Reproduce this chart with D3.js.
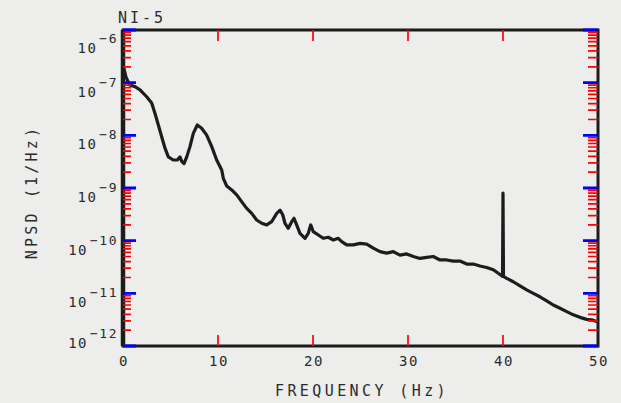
<!DOCTYPE html>
<html>
<head>
<meta charset="utf-8">
<script src="https://cdn.jsdelivr.net/npm/d3@7"></script>
<style>
  body { margin: 0; background: #ededeb; }
  text { font-family: "DejaVu Sans Mono", monospace; fill: #2b2b2b; }
</style>
</head>
<body>
<script>
//chart data: frequency (Hz) and NPSD (1/Hz)
var freq = [0, 0.3, 0.7, 1.26, 1.79, 2.49, 3.02, 3.37, 3.72, 4.07, 4.42, 4.77, 5.29, 5.72, 6.0, 6.18, 6.42,
    6.71, 7.05, 7.4, 7.82, 8.28, 8.81, 9.34, 9.86, 10.39, 10.56, 10.92, 11.44, 11.97, 12.49, 13.02, 13.55,
    14.07, 14.6, 15.13, 15.65, 16.18, 16.53, 16.81, 17.05, 17.4, 17.76, 18.0, 18.28, 18.63, 19.16, 19.5,
    19.76, 20.03, 20.56, 21.08, 21.61, 22.14, 22.66, 23.02, 23.55, 24.24, 24.95, 25.65, 26.35, 27.05, 27.76,
    28.45, 29.16, 29.86, 30.56, 31.26, 31.97, 32.66, 33.37, 34.07, 34.77, 35.47, 36.18, 36.87, 37.58, 38.28,
    38.98, 39.5, 39.86, 39.95, 40.0, 40.05, 40.39, 41.08, 41.79, 42.49, 43.19, 43.89, 44.6, 45.29, 46.0,
    46.71, 47.4, 48.1, 48.81, 49.5, 49.9];
var npsd = [2.2e-7, 1.3e-7, 9.0e-8, 8.4e-8, 7.3e-8, 5.4e-8, 4.1e-8, 2.6e-8, 1.57e-8, 9.4e-9, 5.7e-9, 3.9e-9,
    3.4e-9, 3.4e-9, 3.9e-9, 3.2e-9, 2.9e-9, 3.9e-9, 6.1e-9, 1.09e-8, 1.57e-8, 1.36e-8, 1.01e-8, 6.1e-9,
    3.4e-9, 2.2e-9, 1.53e-9, 1.09e-9, 9.2e-10, 7.4e-10, 5.5e-10, 4.1e-10, 3.3e-10, 2.47e-10, 2.14e-10,
    1.99e-10, 2.29e-10, 3.3e-10, 3.8e-10, 3.1e-10, 2.14e-10, 1.72e-10, 2.29e-10, 2.66e-10, 1.99e-10,
    1.38e-10, 1.11e-10, 1.38e-10, 1.99e-10, 1.48e-10, 1.28e-10, 1.11e-10, 1.16e-10, 1.03e-10, 1.11e-10,
    9.6e-11, 8.3e-11, 8.3e-11, 8.9e-11, 8.6e-11, 7.2e-11, 6.2e-11, 5.8e-11, 6.2e-11, 5.3e-11, 5.6e-11,
    5.0e-11, 4.6e-11, 4.8e-11, 5.0e-11, 4.3e-11, 4.3e-11, 4.1e-11, 4.1e-11, 3.6e-11, 3.6e-11, 3.3e-11,
    3.1e-11, 2.8e-11, 2.4e-11, 2.16e-11, 2.1e-11, 8.0e-10, 2.1e-11, 1.93e-11, 1.66e-11, 1.38e-11, 1.16e-11,
    1.0e-11, 8.6e-12, 7.2e-12, 6.0e-12, 5.2e-12, 4.5e-12, 3.9e-12, 3.5e-12, 3.2e-12, 3.1e-12, 2.9e-12];

//tick values and labels
var x_ticks = [0, 10, 20, 30, 40, 50];
var x_tick_labels = ["0", "10", "20", "30", "40", "50"];
var y_decades = [-6, -7, -8, -9, -10, -11, -12];
var title = "NI-5";
var x_title = "FREQUENCY (Hz)";
var y_title = "NPSD (1/Hz)";

var plot = {left: 123, right: 598, top: 30, bottom: 346};
var ink = "#1c1c1c";

//scales
var x = d3.scaleLinear().domain([0, 50]).range([plot.left, plot.right]);
var y = d3.scaleLog().domain([1e-12, 1e-6]).range([plot.bottom, plot.top]);

var svg = d3.select("body")
    .append("svg")
    .attr("width", 621)
    .attr("height", 403);

svg.append("rect")
    .attr("width", 621)
    .attr("height", 403)
    .attr("fill", "#ededeb");

//log ticks: decades are the major ones
function isMajor(v) {
    return Math.abs(Math.log10(v) - Math.round(Math.log10(v))) < 1e-6;
}

//all minor ticks in one path, x ticks too (inward on every side)
var minorPath = d3.path();
x_ticks.slice(1, -1).forEach(function(t) {
    minorPath.moveTo(x(t), plot.bottom);
    minorPath.lineTo(x(t), plot.bottom - 11);
    minorPath.moveTo(x(t), plot.top);
    minorPath.lineTo(x(t), plot.top + 11);
});
y.ticks().filter(function(v) { return !isMajor(v); }).forEach(function(v) {
    minorPath.moveTo(plot.left, y(v));
    minorPath.lineTo(plot.left + 8, y(v));
    minorPath.moveTo(plot.right, y(v));
    minorPath.lineTo(plot.right - 10, y(v));
});

var majorPath = d3.path();
y.ticks().filter(isMajor).forEach(function(v) {
    majorPath.moveTo(plot.left, y(v));
    majorPath.lineTo(plot.left + 13, y(v));
    majorPath.moveTo(plot.right, y(v));
    majorPath.lineTo(plot.right - 15, y(v));
});

//frame
svg.append("rect")
    .attr("x", plot.left).attr("y", plot.top)
    .attr("width", plot.right - plot.left)
    .attr("height", plot.bottom - plot.top)
    .attr("fill", "none")
    .attr("stroke", ink)
    .attr("stroke-width", 3);

//thicker left axis
svg.append("line")
    .attr("x1", plot.left).attr("x2", plot.left)
    .attr("y1", plot.top).attr("y2", plot.bottom)
    .attr("stroke", ink).attr("stroke-width", 4.5);

//the spectrum line
var pts = freq.map(function(f, i) { return {f: f, v: npsd[i]}; });
var lineGen = d3.line()
    .x(function(d) { return x(d.f); })
    .y(function(d) { return y(d.v); });

svg.append("path")
    .datum(pts)
    .attr("d", lineGen)
    .attr("fill", "none")
    .attr("stroke", ink)
    .attr("stroke-width", 3.2)
    .attr("stroke-linejoin", "round");

svg.append("path")
    .attr("d", minorPath.toString())
    .attr("fill", "none")
    .attr("stroke", "red")
    .attr("stroke-width", 1.7);

svg.append("path")
    .attr("d", majorPath.toString())
    .attr("fill", "none")
    .attr("stroke", "blue")
    .attr("stroke-width", 2.8);

//x tick labels
svg.selectAll(".x-label")
    .data(x_ticks)
    .enter()
    .append("text")
    .attr("class", "x-label")
    .attr("x", function(d) { return x(d) + 1; })
    .attr("y", 366)
    .attr("text-anchor", "middle")
    .attr("font-size", 14)
    .attr("letter-spacing", 1.5)
    .text(function(d, i) { return x_tick_labels[i]; });

//y tick labels, 10 with superscript exponent
y_decades.forEach(function(e) {
    var cy = Math.min(Math.max(y(Math.pow(10, e)) + 9, 48), 343);
    var t = svg.append("text")
        .attr("x", 118)
        .attr("y", cy + 5)
        .attr("text-anchor", "end")
        .attr("font-size", 14)
        .attr("letter-spacing", 1.5);
    t.append("tspan").text("10");
    t.append("tspan")
        .attr("dy", -10)
        .attr("dx", 2)
        .attr("font-size", 13)
        .text("\u2212" + (-e));
});

//titles
svg.append("text")
    .attr("x", 118)
    .attr("y", 23)
    .attr("font-size", 15)
    .attr("letter-spacing", 3)
    .text(title);

svg.append("text")
    .attr("x", 362)
    .attr("y", 396)
    .attr("text-anchor", "middle")
    .attr("font-size", 15)
    .attr("letter-spacing", 3.4)
    .text(x_title);

svg.append("text")
    .attr("transform", "translate(37,192) rotate(-90)")
    .attr("text-anchor", "middle")
    .attr("font-size", 15)
    .attr("letter-spacing", 3.2)
    .text(y_title);
</script>
</body>
</html>
